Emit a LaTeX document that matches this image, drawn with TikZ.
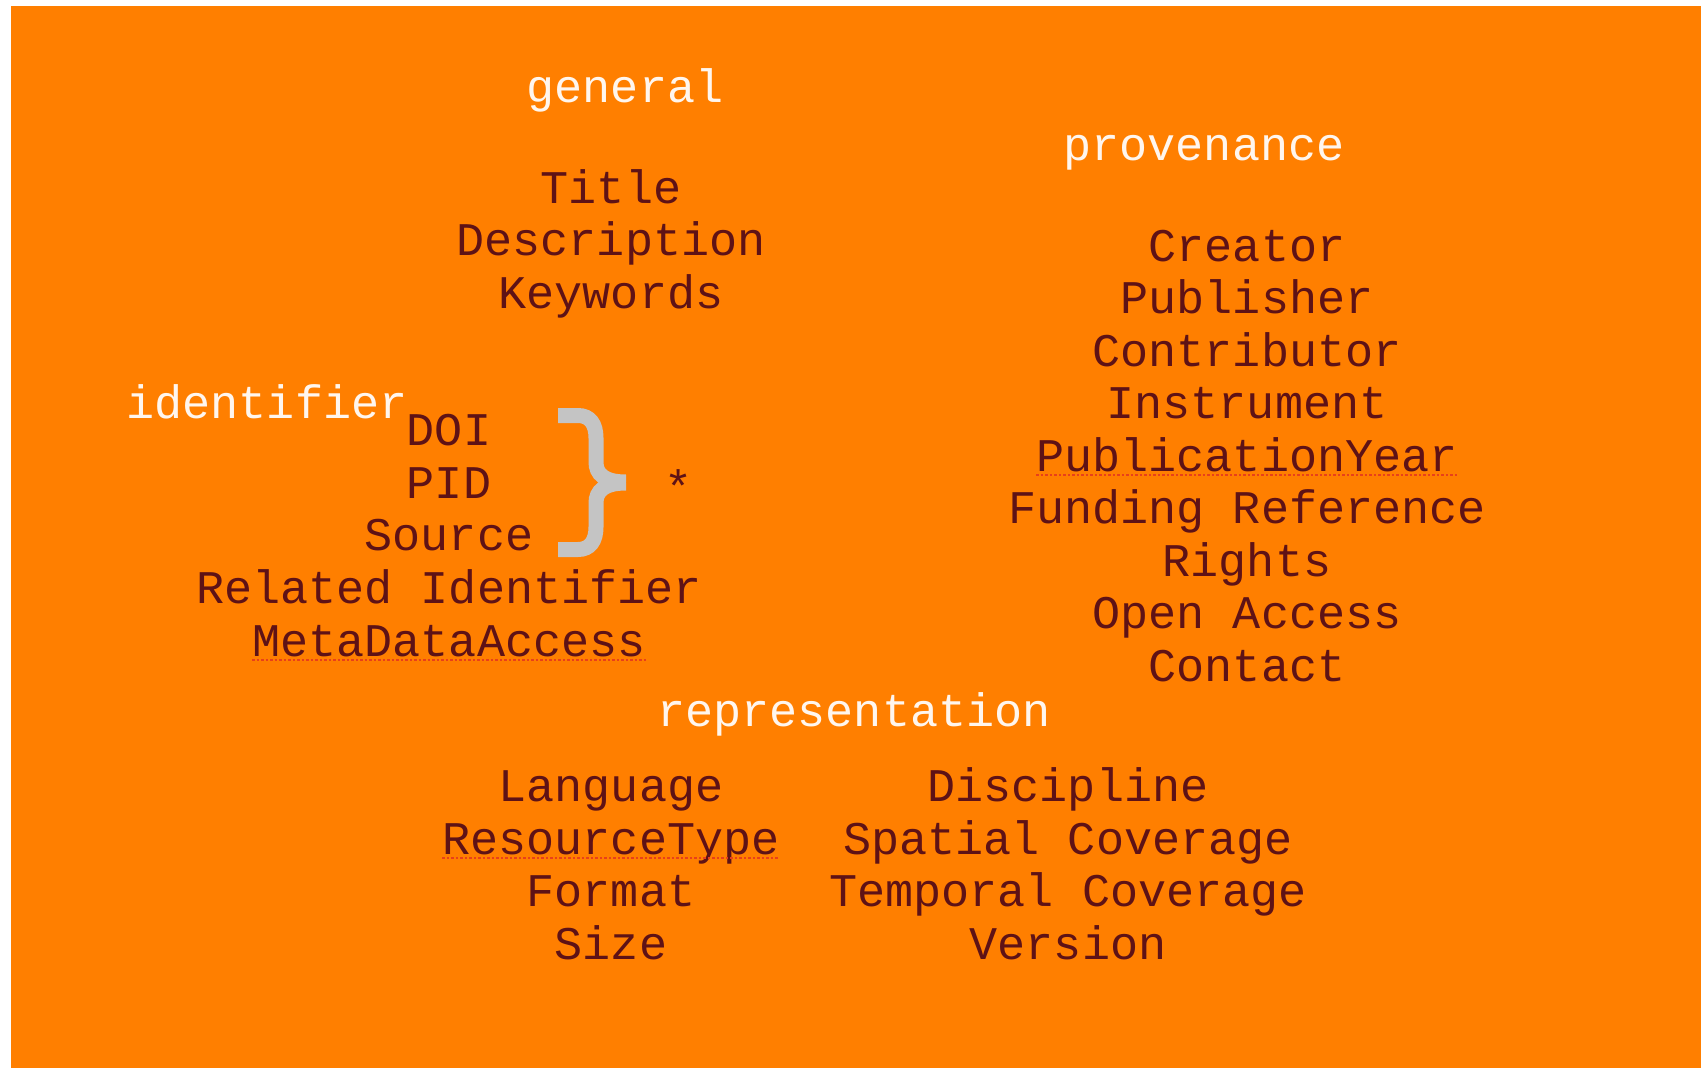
\documentclass[tikz,border=0pt]{standalone}
\usepackage{fontspec}
\newfontfamily\monofont{Liberation Mono}
\usepackage{xcolor}
\definecolor{bgorange}{HTML}{FF7F00}
\definecolor{itemred}{HTML}{5E1216}
\definecolor{headwhite}{HTML}{FFF6EE}
\definecolor{bracegray}{HTML}{C4C4C4}
\definecolor{spellred}{HTML}{E8401A}

\begin{document}
\begin{tikzpicture}[x=1pt,y=-1pt,
	item/.style={anchor=base,inner sep=0pt,text=itemred,font=\monofont\fontsize{46.8}{53}\selectfont},
	head/.style={item,text=headwhite},
	spell/.style={spellred,line width=2.5pt,dotted}]
		\useasboundingbox (0,0) rectangle (1701,1068);
		\fill[white] (0,0) rectangle (1701,1068);
		\fill[bgorange] (11,6) rectangle (1701,1068);
		% headings
		\node[head] (general) at (625,102) {general};
		\node[head] (provenance) at (1204,160) {provenance};
		\node[head] (identifier) at (267,418) {identifier};
		\node[head] (representation) at (854,726) {representation};
		% general
		\node[item] (title) at (611,203) {Title};
		\node[item] (description) at (611,255.5) {Description};
		\node[item] (keywords) at (611,308) {Keywords};
		% provenance
		\node[item] (creator) at (1247,261) {Creator};
		\node[item] (publisher) at (1247,313.5) {Publisher};
		\node[item] (contributor) at (1247,366) {Contributor};
		\node[item] (instrument) at (1247,418.5) {Instrument};
		\node[item] (pubyear) at (1247,471) {PublicationYear};
		\node[item] (funding) at (1247,523.5) {Funding Reference};
		\node[item] (rights) at (1247,576) {Rights};
		\node[item] (openaccess) at (1247,628.5) {Open Access};
		\node[item] (contact) at (1247,681) {Contact};
		% identifier
		\node[item] (doi) at (449,445) {DOI};
		\node[item] (pid) at (449,498) {PID};
		\node[item] (source) at (449,550) {Source};
		\node[item] (related) at (449,603) {Related Identifier};
		\node[item] (metaaccess) at (449,656) {MetaDataAccess};
		\node[item] (star) at (679,503) {*};
		% representation
		\node[item] (language) at (611,801) {Language};
		\node[item] (restype) at (611,854) {ResourceType};
		\node[item] (format) at (611,906) {Format};
		\node[item] (size) at (611,959) {Size};
		\node[item] (discipline) at (1068,801) {Discipline};
		\node[item] (spatial) at (1068,854) {Spatial Coverage};
		\node[item] (temporal) at (1068,906) {Temporal Coverage};
		\node[item] (version) at (1068,959) {Version};
		% brace
		\draw[bracegray,line width=15pt] (558,415.5) -- (578,415.5) .. controls (590,415.5) and (596,424) .. (596,438) -- (596,462) .. controls (596,474) and (604,482) .. (626,482);
		\draw[bracegray,line width=15pt] (558,549.5) -- (578,549.5) .. controls (590,549.5) and (596,541) .. (596,527) -- (596,503) .. controls (596,491) and (604,483) .. (626,483);
		% spelling marks
		\draw[spell] ([yshift=-4pt]pubyear.base west) -- ([yshift=-4pt]pubyear.base east);
		\draw[spell] ([yshift=-4pt]metaaccess.base west) -- ([yshift=-4pt]metaaccess.base east);
		\draw[spell] ([yshift=-4pt]restype.base west) -- ([yshift=-4pt]restype.base east);
	\end{tikzpicture}
\end{document}
